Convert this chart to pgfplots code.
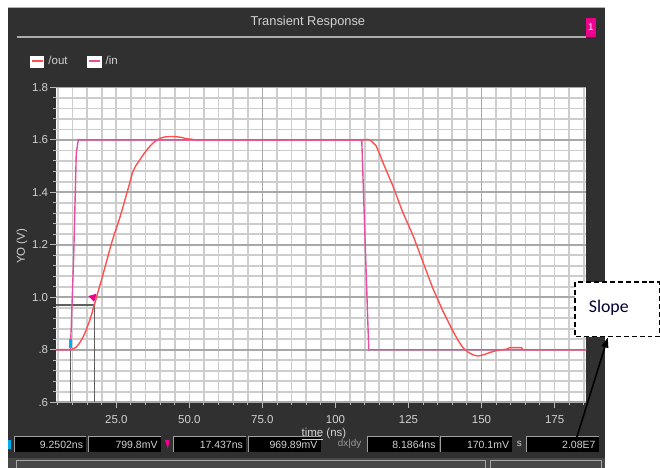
\documentclass[border=0pt]{standalone}
\usepackage{pgfplots}
\pgfplotsset{compat=1.18}
\usepackage{fontspec}
\setmainfont{Liberation Sans}
\newfontfamily\calibri{Carlito}
\usetikzlibrary{arrows.meta}

\definecolor{winbg}{RGB}{48,48,48}
\definecolor{uitext}{RGB}{210,210,210}
\definecolor{outred}{RGB}{255,80,80}
\definecolor{inpink}{RGB}{232,76,158}
\definecolor{gridlt}{RGB}{205,205,205}
\definecolor{griddk}{RGB}{168,168,168}
\definecolor{curgray}{RGB}{95,95,95}
\definecolor{curgreen}{RGB}{60,190,120}

% readout box: x1, x2, text
\newcommand\rbox[3]{%
  \fill[black] (#1,440) rectangle (#2,455);
  \draw[gray!75, line width=0.5bp] (#1,455) -- (#1,440) -- (#2,440);
  \node[anchor=east, text=uitext, inner sep=0pt, font=\fontsize{5.3}{6}\selectfont] at ({#2-3},448) {#3};}

\begin{document}
\begin{tikzpicture}
\begin{scope}[x=0.5bp,y=-0.5bp]
\useasboundingbox (0,0) rectangle (660,471);
\fill[white] (0,0) rectangle (660,471);
\fill[winbg] (8,7) rectangle (609,471);
\draw[gray!60, line width=0.5bp] (8,7.5) -- (609,7.5);
\node[text=uitext, font=\fontsize{6.5}{7}\selectfont] at (310,22) {Transient Response};
\draw[gray!65, line width=0.8bp] (17,37) -- (590,37);
\fill[magenta] (590,18) rectangle (600,37);
\node[text=white, inner sep=0pt, font=\fontsize{5}{6}\selectfont] at (595,27.5) {1};
% cursor readouts
\fill[cyan] (8,443) rectangle (11,452);
\rbox{15}{87}{9.2502ns}
\rbox{89}{162}{799.8mV}
\fill[magenta] (166,443) -- (171,443) -- (169,452) -- cycle;
\rbox{175}{248}{17.437ns}
\rbox{250}{323}{969.89mV}
\node[text=gray!80, inner sep=0pt, font=\fontsize{5}{6}\selectfont] at (352,447) {dx|dy};
\rbox{370}{442}{8.1864ns}
\rbox{444}{516}{170.1mV}
\node[text=uitext, inner sep=0pt, font=\fontsize{5}{6}\selectfont] at (523,447) {s};
\rbox{530}{603}{2.08E7}
% bottom bar
\fill[black!72] (8,461) rectangle (609,471);
\draw[gray!70, line width=0.5bp] (17,472) -- (17,463.5) -- (489,463.5) -- (489,472);
\draw[gray!70, line width=0.5bp] (494,472) -- (494,463.5) -- (606,463.5) -- (606,472);
\end{scope}

\begin{axis}[
  at={(28.25bp,-202.5bp)}, anchor=south west,
  scale only axis, width=267bp, height=158.5bp,
  xmin=4.4, xmax=185.9, ymin=0.6, ymax=1.8,
  axis background/.style={fill=white},
  axis line style={draw=none},
  xtick={25,50,75,100,125,150,175},
  xticklabels={25.0,50.0,75.0,100,125,150,175},
  minor xtick={5,10,...,185},
  ytick={0.6,0.8,1.0,1.2,1.4,1.6,1.8},
  yticklabels={.6,.8,1.0,1.2,1.4,1.6,1.8},
  minor y tick num=4,
  xtick pos=bottom, ytick pos=left,
  tick align=outside,
  major tick length=3bp, minor tick length=1.5bp,
  tick style={gray!55, line width=0.5bp},
  xmajorgrids=false, xminorgrids=true, ymajorgrids=true, yminorgrids=true,
  minor grid style={gridlt, line width=0.85bp},
  major grid style={griddk, line width=0.85bp},
  extra x ticks={75,150}, extra x tick labels={},
  extra x tick style={grid=major, major tick length=0pt},
  tick label style={text=uitext, font=\fontsize{5.8}{7}\selectfont},
  yticklabel style={xshift=2.5bp},
  /pgf/number format/assume math mode=true,
  xlabel={\underline{time} (ns)},
  xlabel style={at={(axis description cs:0.505,-0.101)}, anchor=center, text=uitext, font=\fontsize{5.8}{7}\selectfont},
  ylabel={YO (V)},
  ylabel style={at={(axis description cs:-0.0646,0.495)}, anchor=center, text=uitext, font=\fontsize{5.8}{7}\selectfont},
  legend columns=2,
  legend style={at={(-0.0496,1.1136)}, anchor=north west, draw=none, fill=none,
    text=uitext, font=\fontsize{5.8}{7}\selectfont, inner sep=0pt,
    /tikz/every even column/.append style={column sep=8bp}},
  legend cell align=left,
  legend image code/.code={
    \fill[white] (0bp,-2.65bp) rectangle (6.5bp,2.65bp);
    \draw[#1, line width=0.9bp] (0.4bp,0.5bp) -- (6.1bp,0.5bp);},
]
% cursors
\addplot[curgreen, line width=0.7bp, forget plot] coordinates {(4.4,0.8) (9.25,0.8)};
\addplot[curgray, line width=0.7bp, forget plot] coordinates {(9.25,0.6) (9.25,0.8)};
\addplot[curgray, line width=0.7bp, forget plot] coordinates {(4.4,0.97) (17.44,0.97) (17.44,0.6)};

% /out
\addplot[outred, line width=0.7bp] coordinates {
(4.4,0.800) (9.6,0.801) (10.5,0.805) (11.3,0.810) (12.4,0.825) (13.6,0.848)
(14.7,0.875) (15.8,0.909) (16.7,0.940) (17.44,0.970) (18.9,1.027) (20.4,1.085)
(21.8,1.142) (23.2,1.200) (24.6,1.250) (26.1,1.300) (27.3,1.345) (28.4,1.388)
(29.5,1.432) (30.6,1.477) (31.7,1.502) (32.9,1.521) (34.3,1.545) (35.7,1.565)
(37.1,1.583) (38.6,1.597) (40.0,1.606) (41.5,1.611) (43.5,1.613) (45.5,1.612)
(47.5,1.609) (49.0,1.604) (50.5,1.603) (52.0,1.600) (110.0,1.600) (111.0,1.602)
(112.2,1.597) (113.2,1.586) (113.9,1.578) (115.0,1.550) (116.2,1.515) (119.6,1.426)
(123.0,1.325) (126.5,1.237) (129.9,1.136) (133.3,1.035) (136.8,0.947) (140.2,0.871)
(142.0,0.835) (143.6,0.808) (145.5,0.790) (147.2,0.780) (148.7,0.776) (150.5,0.780)
(152.7,0.789) (154.5,0.795) (156.2,0.799) (158.5,0.802) (159.6,0.808) (163.7,0.808)
(164.2,0.800) (185.9,0.800)
};
\addlegendentry{/out}
% /in
\addplot[inpink, line width=0.7bp] coordinates {
(4.4,0.80) (9.3,0.80) (10.4,1.15) (11.3,1.55) (12.0,1.60) (109.0,1.60) (111.4,0.80) (185.9,0.80)
};
\addlegendentry{/in}

% cursor markers
\addplot[cyan, line width=1.4bp, forget plot] coordinates {(9.3,0.805) (9.3,0.84)};
\addplot[only marks, mark=triangle*, mark size=2bp, mark options={rotate=195, fill=magenta, draw=magenta}, forget plot]
  coordinates {(17.0,1.0)};
\end{axis}

\begin{scope}[x=0.5bp,y=-0.5bp]
\draw[black, line width=0.6bp, dash pattern=on 2.5bp off 1.5bp, fill=white] (579,284) rectangle (664,339);
\node[text=black!80!blue, font=\calibri\fontsize{9}{10}\selectfont] at (613,310) {Slope};
\draw[-{Triangle[length=5bp,width=3.5bp]}, line width=0.8bp] (580,443) -- (612,340);
\end{scope}
\end{tikzpicture}
\end{document}
